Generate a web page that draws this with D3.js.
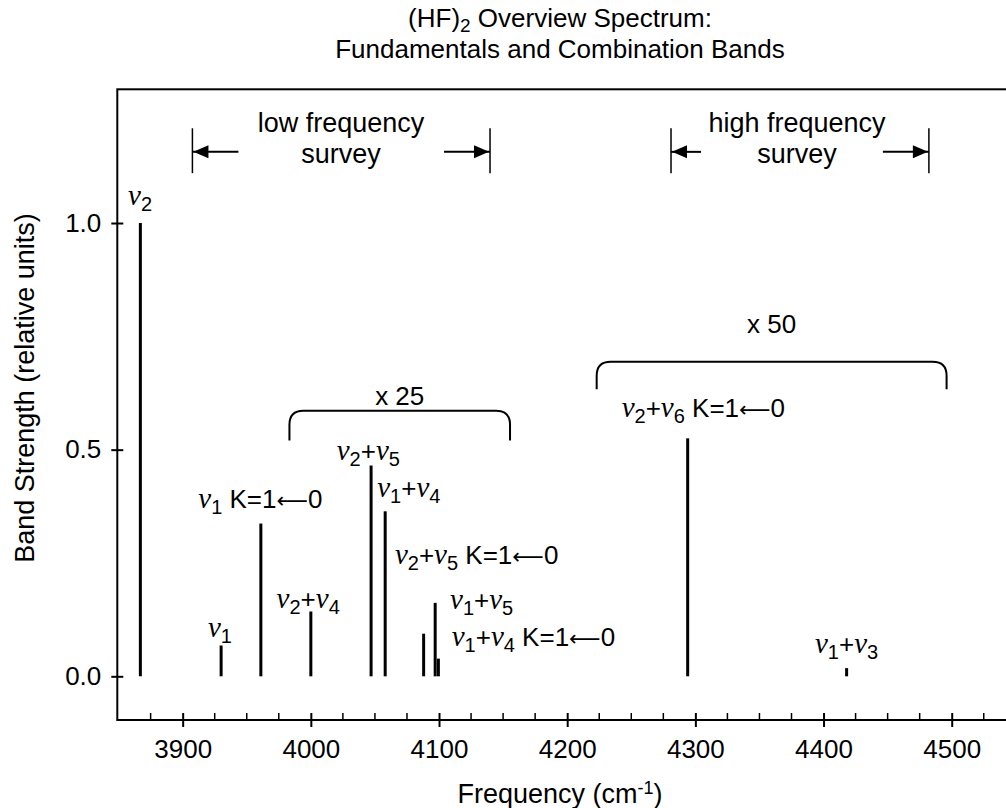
<!DOCTYPE html>
<html lang="en">
<head>
    <meta charset="UTF-8">
    <title>(HF)2 Overview Spectrum</title>
    <style>
        body {
            margin: 0;
            background: #ffffff;
            overflow: hidden;
        }
        svg text {
            font-family: "Liberation Sans", Arial, sans-serif;
            fill: #000;
        }
        .nu {
            font-family: "Liberation Serif", "Times New Roman", serif;
            font-style: italic;
        }
        .arrow {
            font-family: "DejaVu Sans", sans-serif;
        }
    </style>
</head>
<body>
    <svg id="chart" width="1006" height="808"></svg>
    <script src="https://d3js.org/d3.v7.min.js"></script>
    <script>
        // band positions (cm-1) and strengths (relative units, scaled bands already multiplied)
        const freqs = [3867, 3930, 3961, 4000, 4047, 4058, 4088, 4097, 4099.5, 4294, 4418];
        const strengths = [1.0, 0.068, 0.337, 0.143, 0.465, 0.364, 0.094, 0.162, 0.039, 0.525, 0.018];
        const bandNames = ["ν_2", "ν_1", "ν_1 K=1←0", "ν_2+ν_4", "ν_2+ν_5", "ν_1+ν_4",
            "ν_2+ν_5 K=1←0", "ν_1+ν_5", "ν_1+ν_4 K=1←0", "ν_2+ν_6 K=1←0", "ν_1+ν_3"];

        const xTicks = [3900, 4000, 4100, 4200, 4300, 4400, 4500];
        const xMinorTicks = [3875, 3925, 3950, 3975, 4025, 4050, 4075, 4125, 4150, 4175,
            4225, 4250, 4275, 4325, 4350, 4375, 4425, 4450, 4475, 4525];
        const yTicks = [0, 0.5, 1.0];

        const surveyNames = [["low frequency", "survey"], ["high frequency", "survey"]];
        const surveyRanges = [[3907.6, 4139.8], [4281, 4482.2]];
        const scaleNames = ["x 25", "x 50"];
        const scaleRanges = [[3983.3, 4155.4], [4223, 4496]];

        const svg = d3.select("#chart");
        const plotLeft = 117.3, plotRight = 1015.8, plotTop = 89.3, plotBottom = 720;

        const x = d3.scaleLinear().domain([3849, 4550]).range([plotLeft, plotRight]);
        const y = d3.scaleLinear().domain([-0.0964, 1.295]).range([plotBottom, plotTop]);

        // label anchors in data units (left edge, baseline)
        const labelAt = [
            [3857.4, 1.039], [3919.7, 0.087], [3912.2, 0.371], [3973.3, 0.150],
            [4020.2, 0.477], [4051.8, 0.396], [4065.6, 0.248], [4108.6, 0.148],
            [4109.9, 0.067], [4242.5, 0.573], [4393.3, 0.051]
        ];

        // title
        svg.append("text")
            .attr("x", 560).attr("y", 27)
            .attr("text-anchor", "middle")
            .style("font-size", "26px")
            .call(t => {
                t.append("tspan").text("(HF)");
                t.append("tspan").text("2").style("font-size", "19px").attr("dy", 5);
                t.append("tspan").text(" Overview Spectrum:").attr("dy", -5);
            });
        svg.append("text")
            .attr("x", 560).attr("y", 58)
            .attr("text-anchor", "middle")
            .style("font-size", "26px")
            .text("Fundamentals and Combination Bands");

        // frame
        svg.append("rect")
            .attr("x", plotLeft).attr("y", plotTop)
            .attr("width", plotRight - plotLeft).attr("height", plotBottom - plotTop)
            .attr("fill", "none").attr("stroke", "#000").attr("stroke-width", 2);

        // x axis
        const xAxis = svg.append("g")
            .attr("transform", `translate(0,${plotBottom})`)
            .call(d3.axisBottom(x).tickValues(xTicks).tickSize(7).tickPadding(13)
                .tickFormat(d3.format("d")));
        xAxis.select(".domain").remove();
        xAxis.selectAll(".tick line").attr("y1", -7).attr("y2", 7)
            .attr("stroke-width", 2);
        xAxis.selectAll(".tick text").style("font-size", "26px")
            .style("font-family", "Liberation Sans, Arial, sans-serif");

        svg.append("g")
            .selectAll("line")
            .data(xMinorTicks)
            .join("line")
            .attr("x1", d => x(d)).attr("x2", d => x(d))
            .attr("y1", plotBottom).attr("y2", plotBottom - 7)
            .attr("stroke", "#000").attr("stroke-width", 1.5);

        // y axis
        const yAxis = svg.append("g")
            .attr("transform", `translate(${plotLeft},0)`)
            .call(d3.axisLeft(y).tickValues(yTicks).tickSize(6).tickPadding(10)
                .tickFormat(d3.format(".1f")));
        yAxis.select(".domain").remove();
        yAxis.selectAll(".tick line").attr("x1", -6).attr("x2", 6)
            .attr("stroke-width", 2);
        yAxis.selectAll(".tick text").style("font-size", "26px")
            .style("font-family", "Liberation Sans, Arial, sans-serif");

        // axis titles
        svg.append("text")
            .attr("x", 560).attr("y", 803)
            .attr("text-anchor", "middle")
            .style("font-size", "27px")
            .call(t => {
                t.append("tspan").text("Frequency (cm");
                t.append("tspan").text("-1").style("font-size", "18px").attr("dy", -9);
                t.append("tspan").text(")").attr("dy", 9);
            });
        svg.append("text")
            .attr("transform", `translate(34,388) rotate(-90)`)
            .attr("text-anchor", "middle")
            .style("font-size", "27px")
            .text("Band Strength (relative units)");

        // bands
        svg.append("g")
            .selectAll("line")
            .data(freqs)
            .join("line")
            .attr("x1", d => x(d)).attr("x2", d => x(d))
            .attr("y1", y(0)).attr("y2", (d, i) => y(strengths[i]))
            .attr("stroke", "#000").attr("stroke-width", 3);

        // band labels: "ν_n" -> italic nu with subscript, "←" drawn as a long arrow
        function writeLabel(sel, name) {
            const parts = name.split(/(ν_\d|←)/).filter(s => s.length);
            let low = false;
            parts.forEach(p => {
                if (p.startsWith("ν_")) {
                    sel.append("tspan").attr("class", "nu").text("ν")
                        .style("font-size", "29px").attr("dy", low ? -6 : 0);
                    sel.append("tspan").text(p.slice(2))
                        .style("font-size", "20px").attr("dy", 6);
                    low = true;
                } else if (p === "←") {
                    sel.append("tspan").attr("class", "arrow").text("⟵")
                        .style("font-size", "22px").attr("dy", low ? -6 : 0);
                    low = false;
                } else {
                    sel.append("tspan").text(p)
                        .style("font-size", "26px").attr("dy", low ? -6 : 0);
                    low = false;
                }
            });
        }

        svg.append("g")
            .selectAll("text")
            .data(bandNames)
            .join("text")
            .attr("x", (d, i) => x(labelAt[i][0]))
            .attr("y", (d, i) => y(labelAt[i][1]))
            .each(function (d) { writeLabel(d3.select(this), d); });

        // survey range markers
        const surveyY = [1.209, 1.110];
        const arrowY = 1.157;
        surveyRanges.forEach((r, i) => {
            const g = svg.append("g");
            const x1 = x(r[0]), x2 = x(r[1]);
            const ay = y(arrowY);
            r.forEach(v => g.append("line")
                .attr("x1", x(v)).attr("x2", x(v))
                .attr("y1", y(surveyY[0])).attr("y2", y(surveyY[1]))
                .attr("stroke", "#000").attr("stroke-width", 1.5));
            const len = i === 0 ? 46 : 30;
            g.append("line").attr("x1", x1).attr("x2", x1 + len)
                .attr("y1", ay).attr("y2", ay).attr("stroke", "#000").attr("stroke-width", 2);
            g.append("line").attr("x1", x2 - 46).attr("x2", x2)
                .attr("y1", ay).attr("y2", ay).attr("stroke", "#000").attr("stroke-width", 2);
            g.append("path").attr("d", `M${x1 + 1},${ay} l15,-6.5 l0,13 z`).attr("fill", "#000");
            g.append("path").attr("d", `M${x2 - 1},${ay} l-15,-6.5 l0,13 z`).attr("fill", "#000");
            const cx = i === 0 ? x(4023.5) : x(4379.3);
            g.append("text").attr("x", cx).attr("y", y(1.201))
                .attr("text-anchor", "middle").style("font-size", "27px").text(surveyNames[i][0]);
            g.append("text").attr("x", cx).attr("y", y(1.132))
                .attr("text-anchor", "middle").style("font-size", "27px").text(surveyNames[i][1]);
        });

        // scale-factor braces
        const braceTop = [0.586, 0.694];
        const braceEnd = [0.520, 0.633];
        const braceText = [0.598, 0.757];
        scaleRanges.forEach((r, i) => {
            const x1 = x(r[0]), x2 = x(r[1]);
            const yt = y(braceTop[i]), ye = y(braceEnd[i]);
            const rad = 14;
            svg.append("path")
                .attr("d", `M${x1},${ye} L${x1},${yt + rad} Q${x1},${yt} ${x1 + rad},${yt}` +
                    ` L${x2 - rad},${yt} Q${x2},${yt} ${x2},${yt + rad} L${x2},${ye}`)
                .attr("fill", "none").attr("stroke", "#000").attr("stroke-width", 2);
            svg.append("text")
                .attr("x", (x1 + x2) / 2).attr("y", y(braceText[i]))
                .attr("text-anchor", "middle").style("font-size", "26px")
                .text(scaleNames[i]);
        });
    </script>
</body>
</html>
